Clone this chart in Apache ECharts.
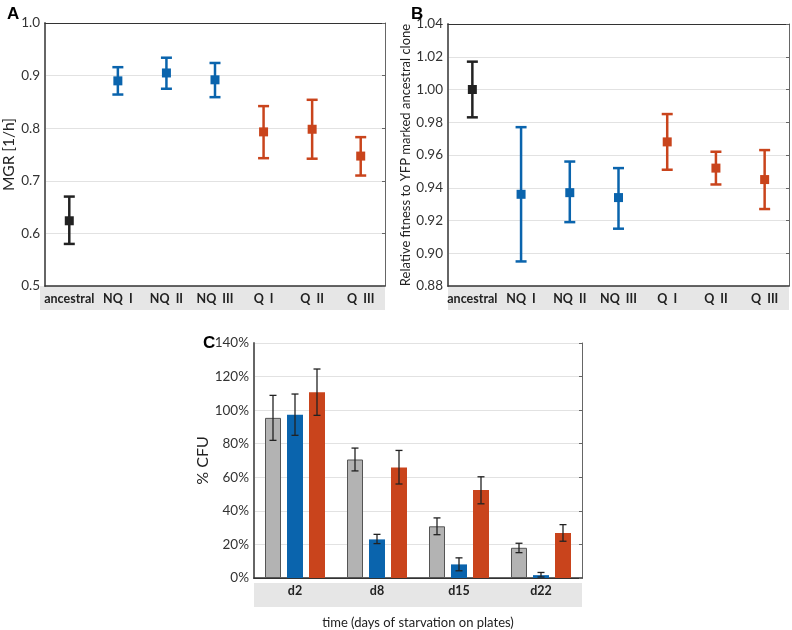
<!DOCTYPE html>
<html>
<head>
<meta charset="utf-8">
<script src="https://cdn.jsdelivr.net/npm/echarts@6/dist/echarts.min.js"></script>
<style>
  html, body { margin: 0; padding: 0; background: #fff; }
  #chart { width: 792px; height: 630px; }
</style>
</head>
<body>
<div id="chart"></div>
<script>
// panel A + B categories
const clones = ['ancestral', 'NQ  I', 'NQ  II', 'NQ  III', 'Q  I', 'Q  II', 'Q  III']
const cloneColors = ['#222222', '#0a64ad', '#0a64ad', '#0a64ad', '#c9441c', '#c9441c', '#c9441c']

// A: maximum growth rate
const mgrMean = [0.624, 0.890, 0.905, 0.892, 0.793, 0.798, 0.747]
const mgrLow  = [0.580, 0.864, 0.875, 0.859, 0.743, 0.742, 0.710]
const mgrHigh = [0.670, 0.916, 0.934, 0.924, 0.842, 0.854, 0.783]

// B: relative fitness
const fitMean = [1.000, 0.936, 0.937, 0.934, 0.968, 0.952, 0.945]
const fitLow  = [0.983, 0.895, 0.919, 0.915, 0.951, 0.942, 0.927]
const fitHigh = [1.017, 0.977, 0.956, 0.952, 0.985, 0.962, 0.963]

// C: % CFU during starvation
const days = ['d2', 'd8', 'd15', 'd22']
const ancCfu  = [95.4, 70.6, 30.8, 18.0]
const ancLow  = [82.0, 63.8, 25.8, 15.1]
const ancHigh = [108.8, 77.4, 35.8, 20.7]
const nqCfu   = [97.2, 23.0, 8.1, 1.7]
const nqLow   = [85.0, 20.5, 4.3, 0.6]
const nqHigh  = [109.6, 26.0, 12.0, 3.3]
const qCfu    = [110.7, 65.9, 52.4, 26.8]
const qLow    = [96.9, 56.0, 44.2, 21.9]
const qHigh   = [124.5, 76.0, 60.3, 31.8]

const FONT = 'Lato'
const BLUE = '#0a64ad', RED = '#c9441c', GREY = '#b3b3b3'

function errBars(color, lineWidth, halfCap, offset) {
  return function (params, api) {
    const top = api.coord([api.value(0), api.value(2)])
    const bot = api.coord([api.value(0), api.value(1)])
    const x = top[0] + offset
    const style = { stroke: typeof color === 'function' ? color(params.dataIndex) : color, lineWidth: lineWidth }
    return {
      type: 'group',
      children: [
        { type: 'line', shape: { x1: x, y1: top[1], x2: x, y2: bot[1] }, style },
        { type: 'line', shape: { x1: x - halfCap, y1: top[1], x2: x + halfCap, y2: top[1] }, style },
        { type: 'line', shape: { x1: x - halfCap, y1: bot[1], x2: x + halfCap, y2: bot[1] }, style }
      ]
    }
  }
}

const zip = (lo, hi) => lo.map((v, i) => [i, v, hi[i]])

function catAxes(gridIndex, data, extra) {
  return [
    Object.assign({
      type: 'category', gridIndex, data, position: 'bottom',
      axisLine: { lineStyle: { color: '#333', width: 1.5 } },
      axisTick: { inside: true, length: 3, alignWithLabel: true, lineStyle: { color: '#444' } },
      axisLabel: { interval: 0, color: '#222', fontFamily: FONT, fontWeight: 'bold', fontSize: 12.5, margin: 6 }
    }, extra || {}),
    {
      type: 'category', gridIndex, data, position: 'top',
      axisLine: { lineStyle: { color: '#333', width: 1 } },
      axisTick: { inside: true, length: 3, alignWithLabel: true, lineStyle: { color: '#444' } },
      axisLabel: { show: false }
    }
  ]
}

function valAxes(gridIndex, min, max, interval, fmt, name, nameGap, nameSize) {
  return [
    {
      type: 'value', gridIndex, min, max, interval, position: 'left',
      name, nameLocation: 'middle', nameGap,
      nameTextStyle: { color: '#222', fontFamily: FONT, fontSize: nameSize },
      axisLine: { show: true, lineStyle: { color: '#666', width: 2 } },
      axisTick: { show: false },
      axisLabel: { color: '#333', fontFamily: FONT, fontSize: 13.5, margin: 5, formatter: fmt },
      splitLine: { show: true, lineStyle: { color: '#e2e2e2', width: 1 } }
    },
    {
      type: 'value', gridIndex, min, max, interval, position: 'right',
      axisLine: { show: true, lineStyle: { color: '#666', width: 1 } },
      axisTick: { show: true, inside: true, length: 3, lineStyle: { color: '#666' } },
      axisLabel: { show: false },
      splitLine: { show: false }
    }
  ]
}

const letter = { fontFamily: 'Liberation Sans', fontWeight: 'bold', fontSize: 17, color: '#000' }

const chart = echarts.init(document.getElementById('chart'), null, { renderer: 'canvas' })

chart.setOption({
  backgroundColor: '#fff',
  animation: false,
  title: [
    { text: 'A', left: 2, top: 1, textStyle: letter },
    { text: 'B', left: 406, top: 1, textStyle: letter },
    { text: 'C', left: 198, top: 330, textStyle: letter }
  ],
  graphic: [
    { type: 'rect', z: -1, shape: { x: 40, y: 286, width: 345, height: 24 }, style: { fill: '#e6e6e6' } },
    { type: 'rect', z: -1, shape: { x: 448, y: 286, width: 341, height: 24 }, style: { fill: '#e6e6e6' } },
    { type: 'rect', z: -1, shape: { x: 254, y: 583, width: 328, height: 24 }, style: { fill: '#e6e6e6' } }
  ],
  grid: [
    { left: 40, top: 23, width: 345, height: 263 },
    { left: 448, top: 24, width: 341, height: 262 },
    { left: 254, top: 343, width: 328, height: 240 }
  ],
  xAxis: [
    ...catAxes(0, clones),
    ...catAxes(1, clones),
    ...catAxes(2, days, {
      name: 'time (days of starvation on plates)', nameLocation: 'middle', nameGap: 38,
      nameTextStyle: { color: '#222', fontFamily: FONT, fontSize: 13 }
    })
  ],
  yAxis: [
    ...valAxes(0, 0.5, 1.0, 0.1, v => v.toFixed(1), 'MGR [1/h]', 28, 15.5),
    ...valAxes(1, 0.88, 1.04, 0.02, v => v.toFixed(2), 'Relative fitness to YFP marked ancestral clone', 35, 13),
    ...valAxes(2, 0, 140, 20, v => Math.round(v) + '%', '% CFU', 38, 16)
  ],
  series: [
    // A
    {
      type: 'custom', xAxisIndex: 0, yAxisIndex: 0, z: 3,
      renderItem: errBars(i => cloneColors[i], 2.5, 5.5, 0),
      encode: { x: 0, y: [1, 2] },
      data: zip(mgrLow, mgrHigh)
    },
    {
      type: 'scatter', xAxisIndex: 0, yAxisIndex: 0, z: 4,
      symbol: 'rect', symbolSize: 9,
      data: mgrMean.map((v, i) => ({ value: v, itemStyle: { color: cloneColors[i], opacity: 1 } }))
    },
    // B
    {
      type: 'custom', xAxisIndex: 2, yAxisIndex: 2, z: 3,
      renderItem: errBars(i => cloneColors[i], 2.5, 5.5, 0),
      encode: { x: 0, y: [1, 2] },
      data: zip(fitLow, fitHigh)
    },
    {
      type: 'scatter', xAxisIndex: 2, yAxisIndex: 2, z: 4,
      symbol: 'rect', symbolSize: 9,
      data: fitMean.map((v, i) => ({ value: v, itemStyle: { color: cloneColors[i], opacity: 1 } }))
    },
    // C
    {
      type: 'bar', xAxisIndex: 4, yAxisIndex: 4, barWidth: 16, barGap: '37.5%',
      itemStyle: { color: GREY, borderColor: '#555', borderWidth: 1 },
      data: ancCfu
    },
    {
      type: 'bar', xAxisIndex: 4, yAxisIndex: 4, barWidth: 16, barGap: '37.5%',
      itemStyle: { color: BLUE },
      data: nqCfu
    },
    {
      type: 'bar', xAxisIndex: 4, yAxisIndex: 4, barWidth: 16, barGap: '37.5%',
      itemStyle: { color: RED },
      data: qCfu
    },
    {
      type: 'custom', xAxisIndex: 4, yAxisIndex: 4, z: 5,
      renderItem: errBars('#222', 1.3, 3.5, -22),
      encode: { x: 0, y: [1, 2] },
      data: zip(ancLow, ancHigh)
    },
    {
      type: 'custom', xAxisIndex: 4, yAxisIndex: 4, z: 5,
      renderItem: errBars('#222', 1.3, 3.5, 0),
      encode: { x: 0, y: [1, 2] },
      data: zip(nqLow, nqHigh)
    },
    {
      type: 'custom', xAxisIndex: 4, yAxisIndex: 4, z: 5,
      renderItem: errBars('#222', 1.3, 3.5, 22),
      encode: { x: 0, y: [1, 2] },
      data: zip(qLow, qHigh)
    }
  ]
})
</script>
</body>
</html>
